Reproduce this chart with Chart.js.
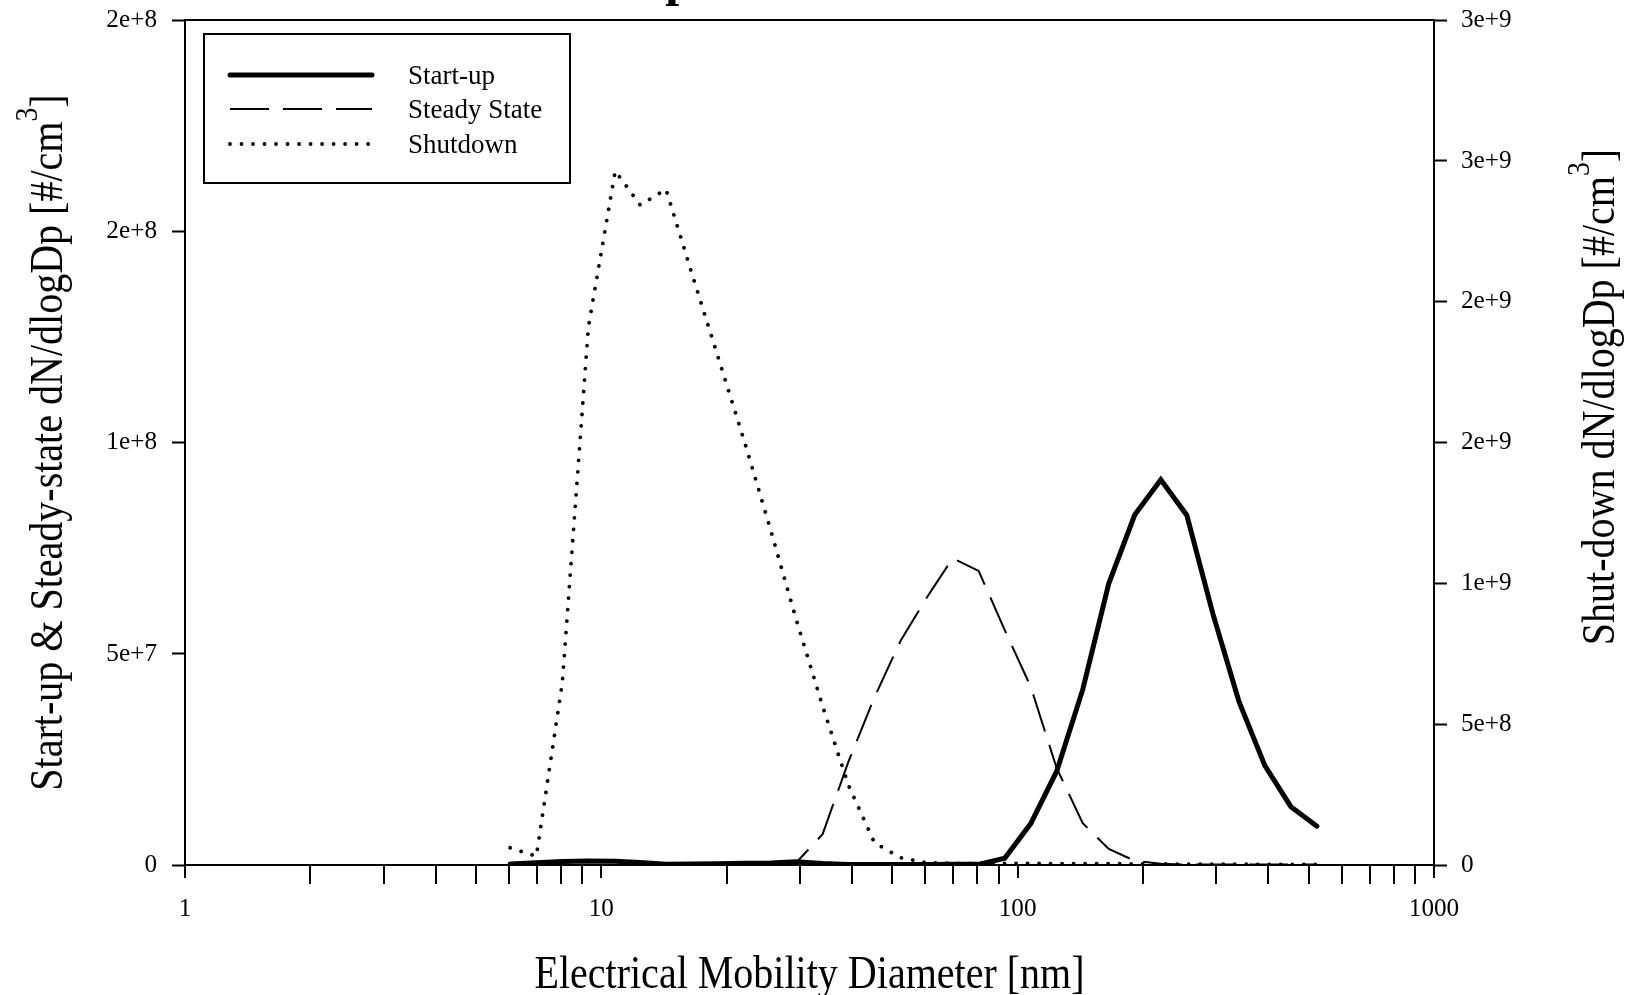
<!DOCTYPE html>
<html>
<head>
<meta charset="utf-8">
<script src="https://cdn.jsdelivr.net/npm/chart.js@4.4.1/dist/chart.umd.min.js"></script>
<style>
  html, body { margin: 0; padding: 0; background: #ffffff; }
  canvas { display: block; }
</style>
</head>
<body>
<canvas id="sizeDist" width="1632" height="995"></canvas>
<script>
// FMPS channel midpoint diameters [nm]
const diameters = [6.04, 6.98, 8.06, 9.31, 10.8, 12.4, 14.3, 16.5, 19.1, 22.1, 25.5, 29.4,
  34.0, 39.2, 45.3, 52.3, 60.4, 69.8, 80.6, 93.1, 107.5, 124.1, 143.3, 165.5, 191.1,
  220.7, 254.8, 294.3, 339.8, 392.4, 453.2, 523.3];

// dN/dlogDp [#/cm3] - start-up and steady state use the left axis
const startUp = [0.25e6, 0.55e6, 0.8e6, 0.95e6, 0.9e6, 0.6e6, 0.2e6, 0.25e6, 0.3e6, 0.4e6, 0.5e6, 0.75e6,
  0.35e6, 0.1e6, 0.1e6, 0.1e6, 0.1e6, 0.15e6, 0.15e6, 1.6e6, 9.8e6, 22.2e6, 41.5e6, 66.6e6, 82.9e6,
  91.2e6, 82.8e6, 59.5e6, 38.8e6, 23.5e6, 13.8e6, 9.2e6];

const steadyState = [0, 0, 0, 0, 0, 0, 0, 0, 0, 0, 0.05e6, 0.6e6,
  7.3e6, 24.4e6, 39.7e6, 53.0e6, 63.2e6, 72.6e6, 69.6e6, 55.6e6, 42.2e6, 22.9e6, 9.9e6, 3.8e6, 1.0e6,
  0.3e6, 0.1e6, 0.1e6, 0.1e6, 0.1e6, 0.1e6, 0.1e6];

// shutdown uses the right axis
const shutDown = [0.061e9, 0.031e9, 0.648e9, 1.911e9, 2.464e9, 2.343e9, 2.399e9, 2.10e9, 1.80e9, 1.50e9, 1.19e9, 0.87e9,
  0.564e9, 0.284e9, 0.079e9, 0.026e9, 0.008e9, 0.006e9, 0.006e9, 0.006e9, 0.006e9, 0.005e9, 0.005e9, 0.005e9, 0.004e9,
  0.004e9, 0.003e9, 0.003e9, 0.003e9, 0.002e9, 0.002e9, 0.002e9];

const seriesNames = ['Start-up', 'Steady State', 'Shutdown'];

// axis ticks
const leftTickValues = [0, 5e7, 1e8, 1.5e8, 2e8];
const leftTickLabels = ['0', '5e+7', '1e+8', '2e+8', '2e+8'];
const rightTickValues = [0, 5e8, 1e9, 1.5e9, 2e9, 2.5e9, 3e9];
const rightTickLabels = ['0', '5e+8', '1e+9', '2e+9', '2e+9', '3e+9', '3e+9'];
const xTickValues = [1, 2, 3, 4, 5, 6, 7, 8, 9, 10, 20, 30, 40, 50, 60, 70, 80, 90,
  100, 200, 300, 400, 500, 600, 700, 800, 900, 1000];
const xMajorValues = [1, 10, 100, 1000];
const xMajorLabels = ['1', '10', '100', '1000'];

// text
const chartTitle = 'Comparison of Phases';
const xTitle = 'Electrical Mobility Diameter [nm]';
const leftTitle = ['Start-up & Steady-state dN/dlogDp [#/cm', '3', ']'];
const rightTitle = ['Shut-down dN/dlogDp [#/cm', '3', ']'];

const FONT = '"Liberation Serif", "Times New Roman", serif';
const TICK_SIZE = 26, TICK_SX = 0.97;
const TITLE_SIZE = 46, TITLE_SX = 0.87;
Chart.defaults.font.family = FONT;
Chart.defaults.color = '#000';

function toPoints(ys) {
  return diameters.map((d, i) => ({ x: d, y: ys[i] }));
}

// rich text (with superscript) centred on (cx, cy baseline), optionally rotated and narrowed
function drawRichText(ctx, parts, cx, cy, angle, size, sx) {
  ctx.save();
  ctx.translate(cx, cy);
  ctx.rotate(angle);
  ctx.scale(sx, 1);
  const mainFont = size + 'px ' + FONT;
  const supFont = Math.round(size * 0.7) + 'px ' + FONT;
  ctx.font = mainFont;
  const w0 = ctx.measureText(parts[0]).width;
  const w2 = parts[2] ? ctx.measureText(parts[2]).width : 0;
  ctx.font = supFont;
  const w1 = parts[1] ? ctx.measureText(parts[1]).width : 0;
  let x = -(w0 + w1 + w2) / 2;
  ctx.fillStyle = '#000';
  ctx.textAlign = 'left';
  ctx.textBaseline = 'alphabetic';
  ctx.font = mainFont;
  ctx.fillText(parts[0], x, 0);
  x += w0;
  if (parts[1]) {
    ctx.font = supFont;
    ctx.fillText(parts[1], x, -size * 0.55);
    x += w1;
  }
  if (parts[2]) {
    ctx.font = mainFont;
    ctx.fillText(parts[2], x, 0);
  }
  ctx.restore();
}

// narrowed single-line label
function drawLabel(ctx, text, x, y, align, baseline) {
  ctx.save();
  ctx.translate(x, y);
  ctx.scale(TICK_SX, 1);
  ctx.font = TICK_SIZE + 'px ' + FONT;
  ctx.fillStyle = '#000';
  ctx.textAlign = align;
  ctx.textBaseline = baseline;
  ctx.fillText(text, 0, 0);
  ctx.restore();
}

// frame, log ticks, tick labels, titles and boxed legend
const decorations = {
  id: 'decorations',
  afterDraw(chart) {
    const ctx = chart.ctx;
    const area = chart.chartArea;
    const xs = chart.scales.x;
    const yl = chart.scales.yLeft;
    const yr = chart.scales.yRight;

    ctx.save();
    ctx.strokeStyle = '#000';
    ctx.lineWidth = 2;
    ctx.lineCap = 'butt';

    // top edge of the frame
    ctx.beginPath();
    ctx.moveTo(area.left - 1, area.top);
    ctx.lineTo(area.right + 1, area.top);
    ctx.stroke();

    // x ticks: decades short, intermediate marks longer
    xTickValues.forEach(v => {
      const px = Math.round(xs.getPixelForValue(v));
      const len = xMajorValues.includes(v) ? 13 : 19;
      ctx.beginPath();
      ctx.moveTo(px, area.bottom);
      ctx.lineTo(px, area.bottom + len);
      ctx.stroke();
    });
    ctx.restore();

    // tick labels
    xMajorValues.forEach((v, i) => {
      drawLabel(ctx, xMajorLabels[i], xs.getPixelForValue(v), area.bottom + 51, 'center', 'alphabetic');
    });
    leftTickValues.forEach((v, i) => {
      drawLabel(ctx, leftTickLabels[i], area.left - 28, yl.getPixelForValue(v), 'right', 'middle');
    });
    rightTickValues.forEach((v, i) => {
      drawLabel(ctx, rightTickLabels[i], area.right + 27, yr.getPixelForValue(v), 'left', 'middle');
    });

    // chart title (sits mostly above the canvas)
    ctx.save();
    ctx.font = 'bold 50px ' + FONT;
    ctx.fillStyle = '#000';
    ctx.textAlign = 'center';
    ctx.textBaseline = 'alphabetic';
    ctx.fillText(chartTitle, 800, -5);
    ctx.restore();

    // axis titles
    drawRichText(ctx, [xTitle], (area.left + area.right) / 2, 988, 0, TITLE_SIZE, TITLE_SX);
    drawRichText(ctx, leftTitle, 62, (area.top + area.bottom) / 2, -Math.PI / 2, TITLE_SIZE, TITLE_SX);
    drawRichText(ctx, rightTitle, 1614, 397, -Math.PI / 2, TITLE_SIZE, TITLE_SX);

    // legend box
    const lx = area.left + 19, ly = area.top + 14, lw = 366, lh = 149;
    ctx.save();
    ctx.strokeStyle = '#000';
    ctx.lineWidth = 2;
    ctx.strokeRect(lx, ly, lw, lh);
    const rows = [ly + 41, ly + 75, ly + 110];
    chart.data.datasets.forEach((d, i) => {
      const y = rows[i];
      ctx.save();
      ctx.strokeStyle = d.borderColor;
      ctx.lineWidth = d.borderWidth;
      ctx.lineCap = d.borderCapStyle || 'butt';
      ctx.setLineDash(d.borderDash || []);
      ctx.beginPath();
      ctx.moveTo(lx + 26, y);
      ctx.lineTo(lx + 168, y);
      ctx.stroke();
      ctx.restore();
      ctx.font = '27px ' + FONT;
      ctx.fillStyle = '#000';
      ctx.textAlign = 'left';
      ctx.textBaseline = 'middle';
      ctx.fillText(d.label, lx + 204, y + 2);
    });
    ctx.restore();
  }
};

new Chart(document.getElementById('sizeDist'), {
  type: 'line',
  data: {
    datasets: [
      {
        label: seriesNames[0],
        data: toPoints(startUp),
        yAxisID: 'yLeft',
        borderColor: '#000',
        borderWidth: 5,
        borderCapStyle: 'round',
        borderJoinStyle: 'miter',
        pointRadius: 0,
        tension: 0,
        fill: false
      },
      {
        label: seriesNames[1],
        data: toPoints(steadyState),
        yAxisID: 'yLeft',
        borderColor: '#000',
        borderWidth: 2,
        borderDash: [39, 14],
        borderCapStyle: 'butt',
        pointRadius: 0,
        tension: 0,
        fill: false
      },
      {
        label: seriesNames[2],
        data: toPoints(shutDown),
        yAxisID: 'yRight',
        borderColor: '#000',
        borderWidth: 3.8,
        borderDash: [0.01, 11.5],
        borderCapStyle: 'round',
        pointRadius: 0,
        tension: 0,
        fill: false
      }
    ]
  },
  options: {
    responsive: false,
    animation: false,
    devicePixelRatio: 1,
    layout: { padding: { top: 20, left: 0, right: 0, bottom: 0 } },
    plugins: {
      legend: { display: false },
      title: { display: false },
      tooltip: { enabled: false }
    },
    scales: {
      x: {
        type: 'logarithmic',
        position: 'bottom',
        min: 1,
        max: 1000,
        afterBuildTicks: s => { s.ticks = xMajorValues.map(v => ({ value: v })); },
        afterFit: s => { s.height = 130; },
        ticks: { display: false },
        grid: { display: false, drawTicks: false },
        border: { display: true, color: '#000', width: 2 },
        title: { display: false }
      },
      yLeft: {
        type: 'linear',
        position: 'left',
        min: 0,
        max: 2e8,
        afterBuildTicks: s => { s.ticks = leftTickValues.map(v => ({ value: v })); },
        afterFit: s => { s.width = 185; },
        ticks: { display: false },
        grid: { display: true, drawOnChartArea: false, drawTicks: true, tickLength: 13, tickWidth: 2, tickColor: '#000' },
        border: { display: true, color: '#000', width: 2 },
        title: { display: false }
      },
      yRight: {
        type: 'linear',
        position: 'right',
        min: 0,
        max: 3e9,
        afterBuildTicks: s => { s.ticks = rightTickValues.map(v => ({ value: v })); },
        afterFit: s => { s.width = 198; },
        ticks: { display: false },
        grid: { display: true, drawOnChartArea: false, drawTicks: true, tickLength: 13, tickWidth: 2, tickColor: '#000' },
        border: { display: true, color: '#000', width: 2 },
        title: { display: false }
      }
    }
  },
  plugins: [decorations]
});
</script>
</body>
</html>
